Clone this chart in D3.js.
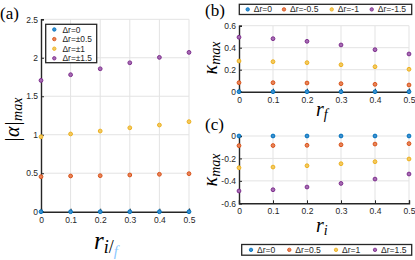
<!DOCTYPE html>
<html><head><meta charset="utf-8">
<script src="https://cdn.jsdelivr.net/npm/d3@7"></script>
<style>body{margin:0;background:#fff}svg{display:block}</style>
</head><body>
<svg id="c" width="415" height="260"></svg>
<script>
const xVals = [0, 0.1, 0.2, 0.3, 0.4, 0.5];
const xTicks = [0, 0.1, 0.2, 0.3, 0.4, 0.5];
// Panel (a): |alpha|_max
const aDr0 = [0, 0, 0, 0, 0, 0];
const aDr05 = [0.455, 0.464, 0.468, 0.477, 0.486, 0.494];
const aDr1 = [0.974, 1.01, 1.048, 1.09, 1.126, 1.17];
const aDr15 = [1.706, 1.78, 1.857, 1.935, 2.005, 2.07];
const aNames = ["Δr=0", "Δr=±0.5", "Δr=±1", "Δr=±1.5"];
const aYTicks = [0, 0.5, 1, 1.5, 2, 2.5];
// Panel (b): kappa_max vs r_f
const bDr0 = [0, 0, 0, 0, 0, 0];
const bDr05 = [0.082, 0.082, 0.079, 0.073, 0.067, 0.061];
const bDr1 = [0.279, 0.273, 0.264, 0.245, 0.227, 0.204];
const bDr15 = [0.495, 0.482, 0.458, 0.425, 0.382, 0.343];
const bNames = ["Δr=0", "Δr=-0.5", "Δr=-1", "Δr=-1.5"];
const bYTicks = [0, 0.2, 0.4, 0.6];
// Panel (c): kappa_max vs r_i
const cDr0 = [0, 0, 0, 0, 0, 0];
const cDr05 = [-0.086, -0.085, -0.083, -0.078, -0.072, -0.068];
const cDr1 = [-0.283, -0.277, -0.265, -0.247, -0.229, -0.205];
const cDr15 = [-0.49, -0.479, -0.455, -0.423, -0.384, -0.339];
const cNames = ["Δr=0", "Δr=0.5", "Δr=1", "Δr=1.5"];
const cYTicks = [-0.6, -0.4, -0.2, 0];

const colors = ["#0072BD", "#D95319", "#EDB120", "#7E2F8E"];
const fills = ["#3b8fd0", "#e8845a", "#f3c95f", "#a66bb3"];
const svg = d3.select("#c");
const sans = "'Liberation Sans', Arial, sans-serif";
const serif = "'Liberation Serif', 'Times New Roman', serif";

function panel(o) {
  const x = d3.scaleLinear().domain([0, 0.5]).range([o.x0, o.x1]);
  const y = d3.scaleLinear().domain(o.yDom).range([o.y1, o.y0]);
  const g = svg.append("g");
  // grid
  g.append("g").selectAll("line").data(xTicks.slice(1)).join("line")
    .attr("x1", d => x(d)).attr("x2", d => x(d)).attr("y1", o.y0).attr("y2", o.y1)
    .attr("stroke", "#e3e3e3").attr("stroke-width", 1);
  g.append("g").selectAll("line").data(o.yTicks.filter(t => t !== o.yDom[0])).join("line")
    .attr("x1", o.x0).attr("x2", o.x1).attr("y1", d => y(d)).attr("y2", d => y(d))
    .attr("stroke", "#e3e3e3").attr("stroke-width", 1);
  // axes
  const xa = g.append("g").attr("transform", `translate(0,${o.y1})`)
    .call(d3.axisBottom(x).tickValues(xTicks).tickSize(-3).tickPadding(5).tickFormat(d3.format("")));
  const ya = g.append("g").attr("transform", `translate(${o.x0},0)`)
    .call(d3.axisLeft(y).tickValues(o.yTicks).tickSize(-3).tickPadding(3).tickFormat(d => d3.format("")(d).replace("−", "-")));
  [xa, ya].forEach(a => {
    a.select(".domain").attr("stroke", "#262626").attr("stroke-width", 1.4);
    a.selectAll(".tick line").attr("stroke", "#262626").attr("stroke-width", 1);
    a.selectAll("text").attr("font-family", sans).attr("font-size", 8.5).attr("fill", "#262626");
  });
  // points
  o.series.forEach((s, i) => {
    g.append("g").selectAll("circle").data(s).join("circle")
      .attr("cx", (d, j) => x(xVals[j])).attr("cy", d => y(d)).attr("r", 1.9)
      .attr("fill", fills[i]).attr("stroke", colors[i]).attr("stroke-width", 1);
  });
  return {x, y};
}

// Panel (a)
panel({x0: 41, x1: 189, y0: 19.3, y1: 211.7, yDom: [0, 2.5], yTicks: aYTicks,
  series: [aDr0, aDr05, aDr1, aDr15]});
// Panel (b)
panel({x0: 239, x1: 409, y0: 25.7, y1: 91.7, yDom: [0, 0.6], yTicks: bYTicks,
  series: [bDr0, bDr05, bDr1, bDr15]});
// Panel (c)
panel({x0: 239, x1: 409, y0: 136, y1: 203.3, yDom: [-0.6, 0], yTicks: cYTicks,
  series: [cDr0, cDr05, cDr1, cDr15]});

// Legend (a)
const la = svg.append("g");
la.append("rect").attr("x", 45.7).attr("y", 24.3).attr("width", 51).attr("height", 38.4)
  .attr("fill", "#fff").attr("stroke", "#262626").attr("stroke-width", 1.3);
aNames.forEach((n, i) => {
  const yy = 29.5 + i * 9.6;
  la.append("circle").attr("cx", 54.3).attr("cy", yy).attr("r", 1.7)
    .attr("fill", fills[i]).attr("stroke", colors[i]).attr("stroke-width", 0.9);
  la.append("text").attr("x", 62.5).attr("y", yy + 3).attr("font-family", sans)
    .attr("font-size", 8.4).attr("fill", "#262626").text(n);
});

function hLegend(x0, x1, y0, y1, mx, names) {
  const l = svg.append("g");
  l.append("rect").attr("x", x0).attr("y", y0).attr("width", x1 - x0).attr("height", y1 - y0)
    .attr("fill", "#fff").attr("stroke", "#262626").attr("stroke-width", 1.3);
  const cy = (y0 + y1) / 2;
  names.forEach((n, i) => {
    l.append("circle").attr("cx", mx[i]).attr("cy", cy).attr("r", 1.7)
      .attr("fill", fills[i]).attr("stroke", colors[i]).attr("stroke-width", 0.9);
    l.append("text").attr("x", mx[i] + 6).attr("y", cy + 3).attr("font-family", sans)
      .attr("font-size", 8.6).attr("fill", "#262626").text(n);
  });
}
hLegend(239.3, 411.7, 4.3, 14.5, [247.7, 284, 331.7, 371.7], bNames);
hLegend(241.7, 411.7, 244.5, 255.2, [251, 289.3, 336, 375], cNames);

// panel letters
[["(a)", 0, 19], ["(b)", 205, 16], ["(c)", 205, 130]].forEach(([t, px, py]) => {
  svg.append("text").attr("x", px).attr("y", py).attr("font-family", serif)
    .attr("font-size", 17).attr("fill", "#000").text(t);
});

// axis labels
// (a) y label
const ayl = svg.append("text").attr("transform", "translate(19,120) rotate(-90)")
  .attr("text-anchor", "middle").attr("font-family", serif).attr("fill", "#000");
ayl.append("tspan").attr("font-size", 20).attr("font-style", "italic").text("|α|");
ayl.append("tspan").attr("font-size", 14).attr("font-style", "italic").attr("dy", 3).text("max");
// (a) x label
const axl = svg.append("text").attr("x", 94).attr("y", 249).attr("font-family", serif)
  .attr("font-style", "italic").attr("fill", "#000");
axl.append("tspan").attr("font-size", 25).text("r");
axl.append("tspan").attr("font-size", 18).attr("dy", 4).text("i");
axl.append("tspan").attr("font-size", 18).attr("font-style", "normal").text("/");
axl.append("tspan").attr("font-size", 15).attr("dy", 3).attr("fill", "#8cc8ff").text("f");
// (b)/(c) labels
function kap(cx, cy) {
  const t = svg.append("text").attr("transform", `translate(${cx},${cy}) rotate(-90)`)
    .attr("text-anchor", "middle").attr("font-family", serif).attr("font-style", "italic").attr("fill", "#000");
  t.append("tspan").attr("font-size", 20).text("κ");
  t.append("tspan").attr("font-size", 14).attr("dy", 3).text("max");
}
kap(217, 58);
kap(217, 170);
function rl(x0, y0, sub) {
  const t = svg.append("text").attr("x", x0).attr("y", y0).attr("font-family", serif)
    .attr("font-style", "italic").attr("fill", "#000");
  t.append("tspan").attr("font-size", 20).text("r");
  t.append("tspan").attr("font-size", 14).attr("dy", 3).text(sub);
}
rl(316, 116, "f");
rl(316, 232, "i");
</script>
</body></html>
